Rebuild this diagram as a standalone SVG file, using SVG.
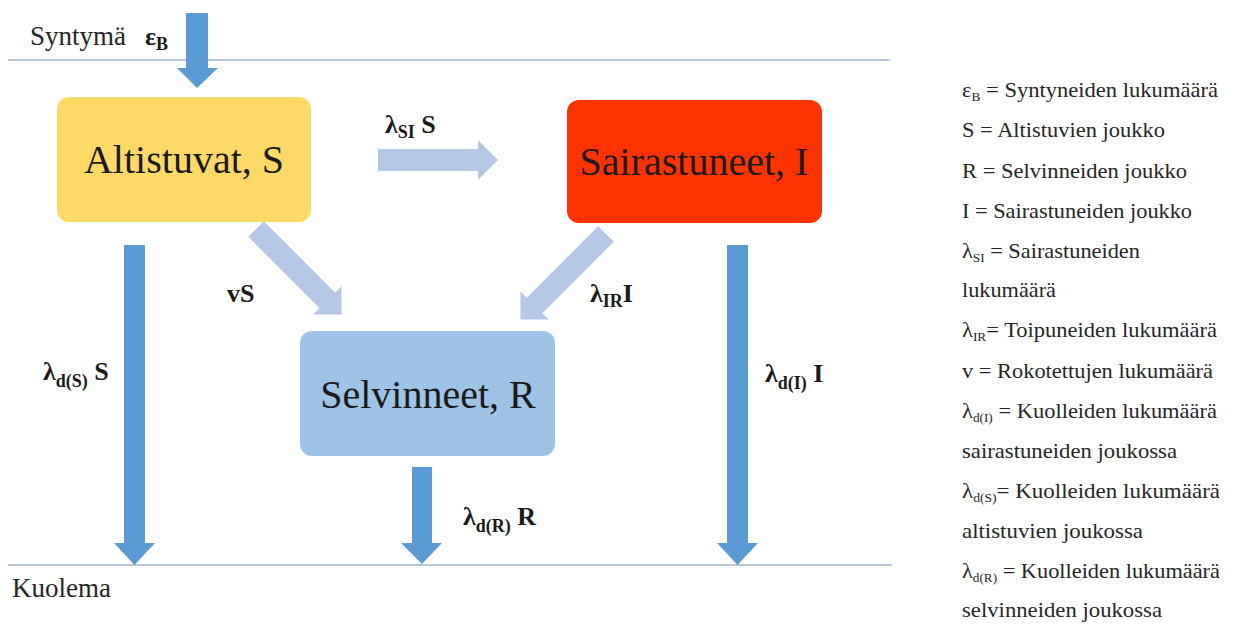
<svg xmlns="http://www.w3.org/2000/svg" width="1239" height="627" viewBox="0 0 1239 627">
<style>
.bg{fill:#ffffff}
.rule{stroke:#9fb4d0;stroke-width:1.5;fill:none}
.box{stroke:none}
text{font-family:'Liberation Serif','Times New Roman','DejaVu Serif',serif}
.big{font-size:40px;fill:#1a1a1a;text-anchor:middle}
.lab{font-size:26px;font-weight:bold;fill:#1a1a1a}
.sub{font-size:18px}
.plain{font-size:27px;fill:#262626}
.leg{font-size:22px;fill:#262626}
.lsub{font-size:13px}
.flow{fill:#b4c7e7}
.death{fill:#5b9bd5}
</style>
<rect class="bg" x="0" y="0" width="1239" height="627"/>

<g id="boundaries">
<line class="rule" x1="8" y1="60" x2="890" y2="60"/>
<line class="rule" x1="8" y1="565" x2="892" y2="565"/>
<text class="plain" x="30" y="45">Syntymä</text>
<text class="lab" x="145" y="45">ε<tspan class="sub" dy="5">B</tspan></text>
<text class="plain" x="12" y="597">Kuolema</text>
</g>

<g id="node-altistuvat">
<rect class="box" x="57" y="97" width="254" height="125" rx="12" fill="#ffd966"/>
<text class="big" x="184" y="173">Altistuvat, S</text>
</g>

<g id="node-sairastuneet">
<rect class="box" x="567" y="100" width="255" height="123" rx="12" fill="#ff3300"/>
<text class="big" x="694" y="175">Sairastuneet, I</text>
</g>

<g id="node-selvinneet">
<rect class="box" x="300" y="331" width="255" height="125" rx="12" fill="#9dc3e6"/>
<text class="big" x="428" y="408">Selvinneet, R</text>
</g>

<g id="connectors">
<polygon class="death" points="186,13 208,13 208,68 218,68 197,88 177,68 186,68"/>
<polygon class="flow" transform="translate(378,160)" points="0,-11 100,-11 100,-20 120,0 100,20 100,11 0,11"/>
<polygon class="flow" transform="translate(256,229) rotate(45)" points="0,-11 101,-11 101,-20 121,0 101,20 101,11 0,11"/>
<polygon class="flow" transform="translate(606,234) rotate(135)" points="0,-11 101,-11 101,-20 121,0 101,20 101,11 0,11"/>
<polygon class="death" points="124,245 145,245 145,543 155,543 134.5,565 114,543 124,543"/>
<polygon class="death" points="412,467 432,467 432,543 442,543 422,564 401,543 412,543"/>
<polygon class="death" points="727,245 748,245 748,543 758,543 737.5,565 717,543 727,543"/>

<text class="lab" x="385" y="133">λ<tspan class="sub" dy="5">SI</tspan><tspan dy="-5"> S</tspan></text>
<text class="lab" x="227" y="302">vS</text>
<text class="lab" x="590" y="302">λ<tspan class="sub" dy="5">IR</tspan><tspan dy="-5">I</tspan></text>
<text class="lab" x="43" y="380">λ<tspan class="sub" dy="7">d(S)</tspan><tspan dy="-7"> S</tspan></text>
<text class="lab" x="463" y="525">λ<tspan class="sub" dy="7">d(R)</tspan><tspan dy="-7"> R</tspan></text>
<text class="lab" x="765" y="382">λ<tspan class="sub" dy="7">d(I)</tspan><tspan dy="-7"> I</tspan></text>
</g>

<g id="legend">
<text class="leg" x="962" y="97" textLength="256" lengthAdjust="spacingAndGlyphs">ε<tspan class="lsub" dy="4">B</tspan><tspan dy="-4"> = Syntyneiden  lukumäärä</tspan></text>
<text class="leg" x="962" y="137" textLength="203" lengthAdjust="spacingAndGlyphs">S = Altistuvien  joukko</text>
<text class="leg" x="962" y="178" textLength="225" lengthAdjust="spacingAndGlyphs">R = Selvinneiden  joukko</text>
<text class="leg" x="962" y="218" textLength="230" lengthAdjust="spacingAndGlyphs">I = Sairastuneiden  joukko</text>
<text class="leg" x="962" y="258" textLength="178" lengthAdjust="spacingAndGlyphs">λ<tspan class="lsub" dy="4">SI</tspan><tspan dy="-4"> = Sairastuneiden</tspan></text>
<text class="leg" x="962" y="297" textLength="94" lengthAdjust="spacingAndGlyphs">lukumäärä</text>
<text class="leg" x="962" y="337" textLength="255" lengthAdjust="spacingAndGlyphs">λ<tspan class="lsub" dy="4">IR</tspan><tspan dy="-4">= Toipuneiden  lukumäärä</tspan></text>
<text class="leg" x="962" y="378" textLength="251" lengthAdjust="spacingAndGlyphs">v = Rokotettujen lukumäärä</text>
<text class="leg" x="962" y="418" textLength="255" lengthAdjust="spacingAndGlyphs">λ<tspan class="lsub" dy="4">d(I)</tspan><tspan dy="-4"> = Kuolleiden  lukumäärä</tspan></text>
<text class="leg" x="962" y="458" textLength="215" lengthAdjust="spacingAndGlyphs">sairastuneiden  joukossa</text>
<text class="leg" x="962" y="498" textLength="258" lengthAdjust="spacingAndGlyphs">λ<tspan class="lsub" dy="4">d(S)</tspan><tspan dy="-4">= Kuolleiden  lukumäärä</tspan></text>
<text class="leg" x="962" y="538" textLength="181" lengthAdjust="spacingAndGlyphs">altistuvien joukossa</text>
<text class="leg" x="962" y="578" textLength="258" lengthAdjust="spacingAndGlyphs">λ<tspan class="lsub" dy="4">d(R)</tspan><tspan dy="-4">  = Kuolleiden lukumäärä</tspan></text>
<text class="leg" x="962" y="617" textLength="200" lengthAdjust="spacingAndGlyphs">selvinneiden  joukossa</text>
</g>
</svg>
